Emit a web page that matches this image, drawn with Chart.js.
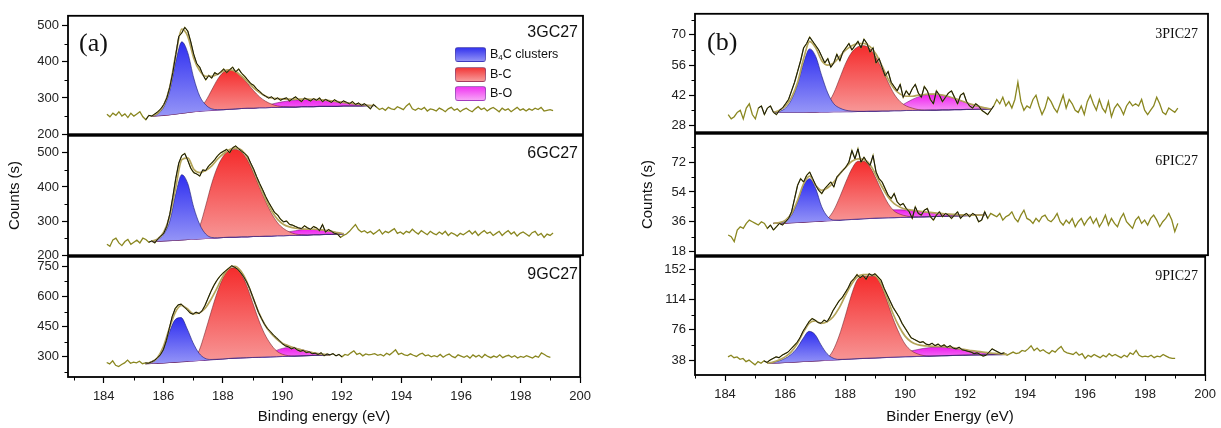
<!DOCTYPE html>
<html>
<head>
<meta charset="utf-8">
<script src="https://cdn.jsdelivr.net/npm/chart.js@4.4.0/dist/chart.umd.min.js"></script>
<style>
  body { margin: 0; background: #fff; width: 1221px; height: 428px; position: relative; overflow: hidden;
         font-family: "Liberation Sans", Arial, sans-serif; }
  canvas { position: absolute; }
  .txt { position: absolute; white-space: nowrap; color: #111; line-height: 1; }
  .tag { font-family: "Liberation Serif", "Times New Roman", serif; font-size: 26px; }
  .gc { font-size: 16px; }
  .pic { font-family: "Liberation Serif", "Times New Roman", serif; font-size: 14px; }
  .key { position: absolute; left: 455px; width: 31px; height: 15px; border-radius: 3px;
         border: 1px solid rgba(70,60,130,0.45); box-sizing: border-box; }
  .keytxt { position: absolute; left: 490px; font-size: 12.5px; color: #111; line-height: 15px; }
  .keytxt sub { font-size: 8px; vertical-align: -2px; }
</style>
</head>
<body>
<canvas id="a1"></canvas><canvas id="a2"></canvas><canvas id="a3"></canvas>
<canvas id="b1"></canvas><canvas id="b2"></canvas><canvas id="b3"></canvas>

<div class="txt tag" style="left:79px;top:30px">(a)</div>
<div class="txt tag" style="left:707px;top:29px">(b)</div>
<div class="txt gc" style="right:643px;top:24px">3GC27</div>
<div class="txt gc" style="right:643px;top:145px">6GC27</div>
<div class="txt gc" style="right:643px;top:266px">9GC27</div>
<div class="txt pic" style="right:23px;top:27px">3PIC27</div>
<div class="txt pic" style="right:23px;top:154px">6PIC27</div>
<div class="txt pic" style="right:23px;top:269px">9PIC27</div>

<div class="key" style="top:47px;background:linear-gradient(#3434ee,#9292f6)"></div>
<div class="key" style="top:67px;background:linear-gradient(#f23838,#f79a9a)"></div>
<div class="key" style="top:86px;background:linear-gradient(#f036f0,#f7a4f7)"></div>
<div class="keytxt" style="top:47px">B<sub>4</sub>C clusters</div>
<div class="keytxt" style="top:67px">B-C</div>
<div class="keytxt" style="top:86px">B-O</div>

<script>
// raw spectra, 0.1 eV steps from 184.1 to 199.0 eV
const rawStart = 184.1, rawStep = 0.1;
const rawA1 = [255,248,258,252,262,250,256,246,258,250, 256,262,248,240,252,250,256,262,270,282,
  300,330,370,420,470,480,495,485,455,420, 395,385,365,350,362,355,370,365,372,380,
  370,378,385,372,380,368,360,350,340,335, 325,318,310,305,300,303,296,300,294,298,
  300,292,298,303,296,290,300,296,292,298, 294,300,290,296,292,288,295,290,286,292,
  288,284,290,282,286,280,284,278,270,282, 275,268,272,266,274,270,268,276,272,268,
  278,285,270,266,272,268,274,264,270,268, 264,272,268,262,270,274,266,270,262,268,
  272,266,262,270,276,268,272,264,270,274, 268,262,272,266,270,262,268,274,266,270,
  264,270,266,272,268,274,264,266,268,265];
const rawA2 = [232,226,245,250,236,228,240,246,232,238, 244,236,250,246,238,242,236,248,256,265,
  285,320,370,425,470,492,498,478,455,442, 438,432,450,448,462,470,480,492,500,505,
  510,500,515,520,512,505,498,490,470,452, 430,410,392,372,355,340,325,318,305,298,
  300,290,288,284,280,278,286,280,276,284, 280,272,290,268,275,270,264,262,252,258,
  262,270,280,290,275,268,272,265,270,262, 268,275,262,270,266,272,278,264,268,262,
  270,266,276,268,262,272,266,260,270,264, 260,268,262,270,258,266,262,256,264,260,
  266,272,262,270,258,266,272,264,268,258, 264,270,258,266,272,262,268,256,264,268,
  262,256,266,270,258,264,252,262,258,265];
const rawA3 = [272,265,280,258,252,262,270,284,268,274, 270,278,266,270,268,275,282,295,310,335,
  380,440,500,540,558,562,548,535,518,512, 522,515,528,555,590,625,655,680,700,715,
  728,740,752,745,735,718,698,672,640,600, 560,520,490,462,440,425,408,395,380,365,
  355,350,340,346,335,328,332,322,325,316, 318,312,320,306,314,310,316,305,312,300,
  312,308,320,330,312,318,305,315,310,312, 316,308,312,304,318,310,322,335,312,318,
  310,306,315,308,302,312,318,305,310,300, 306,300,312,298,308,314,302,296,310,304,
  298,306,294,310,300,308,296,312,302,296, 304,298,310,296,304,308,298,306,294,302,
  298,306,300,294,304,298,320,312,302,298];
const rawB1 = [33,31,32,34,35,31,36,38,33,31, 36,37,33,36,37,34,33,35,36,38,
  40,44,48,53,58,64,66,69,67,65, 63,60,57,59,55,57,61,58,62,64,
  66,63,65,67,64,68,66,62,64,57, 59,55,51,53,48,46,44,47,41,44,
  42,45,47,43,41,46,44,40,38,44, 42,39,41,43,44,41,38,42,43,39,
  37,36,38,37,35,34,33,35,37,40, 38,41,37,39,36,40,48,39,35,37,
  36,40,42,37,33,36,41,39,36,34, 38,42,36,40,38,35,34,37,33,39,
  42,38,35,40,36,34,39,32,36,38, 36,33,37,39,37,38,37,40,35,33,
  35,37,41,38,34,33,36,35,34,36];
const rawB2 = [28,27,24,31,33,32,35,37,36,35, 34,36,35,32,34,31,33,35,34,36,
  38,42,50,58,62,60,64,66,62,58, 55,53,56,58,60,57,63,65,67,69,
  72,79,74,80,72,75,72,70,76,66, 62,60,56,52,50,53,48,46,47,44,
  42,38,45,41,40,43,44,39,37,40, 42,39,41,40,38,40,42,38,40,41,
  39,41,40,36,37,42,38,41,40,39, 41,37,39,40,42,38,36,40,43,38,
  37,35,38,36,39,40,37,36,38,41, 36,34,37,35,38,33,36,38,34,37,
  39,35,38,33,36,40,34,38,35,33, 38,41,36,34,32,37,39,35,37,34,
  38,40,37,33,36,38,41,37,30,35];
const rawB3 = [42,44,41,42,39,40,36,38,35,32, 36,34,37,35,38,40,42,41,44,46,
  48,52,56,60,66,74,80,86,90,88, 85,84,88,86,92,100,106,112,116,122,
  128,136,140,145,141,144,139,146,144,146, 142,138,128,120,112,104,98,92,84,78,
  72,66,64,62,60,61,58,57,59,56, 58,55,57,54,56,53,52,54,51,50,
  49,48,46,47,45,43,44,48,52,50, 48,46,47,44,46,48,46,47,50,49,
  52,56,50,53,49,51,48,46,50,48, 52,55,49,47,46,45,48,44,46,40,
  44,42,45,43,41,44,42,46,43,45, 43,41,44,42,47,45,50,44,42,43,
  42,44,41,43,42,45,43,41,40,40];

// fitted components, 0.2 eV steps from each fit start
const fitStep = 0.2;
const fitStartA1 = 185.6;
const baseA1 = [250,251,252,254,256,258,260,262,264,265,266,267,268,269,270,271,272,272,273,273,274,274,275,275,275,276,276,276,277,277,277,277,278,278,278,278,279,279];
const b4cA1 = [250,256,275,320,400,455,425,355,305,281,270,268,268,269,270,271,272,272,273,273,274,274,275,275,275,276,276,276,277,277,277,277,278,278,278,278,279,279];
const bcA1 = [250,251,252,254,256,258,260,263,272,292,322,352,372,378,372,358,340,320,303,291,283,278,276,275.5,275,276,276,276,277,277,277,277,278,278,278,278,279,279];
const boA1 = [250,251,252,254,256,258,260,262,264,265,266,267,268,269,270,271,272,272,275,279,283,287,290,292.5,294,295.5,296,296,295,293.5,291.5,289,287,285,283,281.5,280,279];
const envA1 = [250,258,280,330,420,490,470,410,375,360,360,366,375,378,373,360,345,328,315,305,300,298,297,297,297,297,297,296,295,294,292,290,288,286,284,282,280,279];

const fitStartA2 = 185.6;
const baseA2 = [240,241,242,243,244,245,246,247,248,249,250,251,252,253,253,254,254,255,255,256,256,257,257,258,258,259,259,260,260,261,261,262,262];
const b4cA2 = [240,246,262,300,380,436,410,340,290,262,252,251,252,253,253,254,254,255,255,256,256,257,257,258,258,259,259,260,260,261,261,262,262];
const bcA2 = [240,241,242,243,244,245,246,255,285,345,410,460,492,507,510,502,478,440,398,358,322,295,278,268,262,260,259,260,260,261,261,262,262];
const boA2 = [240,241,242,243,244,245,246,247,248,249,250,251,252,253,253,254,254,255,255,256,258,261,265,269,272,275,276,276,275,273,270,266,263];
const envA2 = [241,248,268,315,400,480,485,452,442,448,462,482,498,510,514,508,485,448,405,365,330,305,290,283,279,277,276,276,275,273,270,266,263];

const fitStartA3 = 185.4;
const baseA3 = [266,267,268,270,272,274,276,278,280,282,284,286,288,290,292,294,295,296,297,298,299,300,301,302,303,304,305,306,307,308,309,310];
const b4cA3 = [266,272,292,340,420,485,495,440,370,318,293,287,288,290,292,294,295,296,297,298,299,300,301,302,303,304,305,306,307,308,309,310];
const bcA3 = [266,267,268,270,272,274,276,278,290,330,420,520,615,690,735,742,715,655,570,485,415,365,330,313,306,304,305,306,307,308,309,310];
const boA3 = [266,267,268,270,272,274,276,278,280,282,284,286,288,290,292,294,295,296,297,298,305,318,332,342,346,344,338,330,322,316,312,310];
const envA3 = [266,274,296,350,440,520,555,540,515,518,540,585,640,700,740,750,728,675,598,522,462,420,390,368,355,345,336,328,321,316,312,310];

const fitStartB1 = 185.6;
const baseB1 = [34,34,34,34,34,34,34.1,34.1,34.2,34.2,34.3,34.3,34.4,34.4,34.5,34.5,34.6,34.6,34.7,34.7,34.8,34.8,34.9,34.9,35,35,35.1,35.1,35.2,35.2,35.3,35.3,35.4,35.4,35.5,35.5,35.6];
const b4cB1 = [34,34.5,36,40,47,57,63.5,60,51,43,38,36,35,34.6,34.5,34.5,34.6,34.6,34.7,34.7,34.8,34.8,34.9,34.9,35,35,35.1,35.1,35.2,35.2,35.3,35.3,35.4,35.4,35.5,35.5,35.6];
const bcB1 = [34,34,34,34,34,34,34.1,34.1,35,38,43,50,57,62,64.5,65,63.5,59.5,54,48,42.5,39,37,36,35.3,35.1,35.1,35.1,35.2,35.2,35.3,35.3,35.4,35.4,35.5,35.5,35.6];
const boB1 = [34,34,34,34,34,34,34.1,34.1,34.2,34.2,34.3,34.3,34.4,34.4,34.5,34.5,34.6,34.6,34.7,34.7,35.5,36.8,38.5,40,41.2,42,42.4,42.4,42,41.3,40.4,39.4,38.4,37.5,36.7,36,35.6];
const envB1 = [34,35,37,41,48,59,67,64,58,56,57,60,63,65,66,66,64.5,61,55.5,49.5,45,42.5,41.5,41.5,42,42.3,42.5,42.5,42,41.4,40.5,39.5,38.5,37.6,36.8,36.1,35.7];

const fitStartB2 = 185.6;
const baseB2 = [35,35.1,35.2,35.4,35.6,35.8,36,36.2,36.4,36.6,36.8,37,37.2,37.4,37.6,37.8,38,38.2,38.3,38.4,38.5,38.6,38.7,38.8,38.9,39,39.1,39.2,39.3,39.4,39.5,39.6,39.7,39.8,39.9,40];
const b4cB2 = [35,35.2,36.5,40,48,58,62,56,45,39,37,37,37.2,37.4,37.6,37.8,38,38.2,38.3,38.4,38.5,38.6,38.7,38.8,38.9,39,39.1,39.2,39.3,39.4,39.5,39.6,39.7,39.8,39.9,40];
const bcB2 = [35,35.1,35.2,35.4,35.6,35.8,36,36.2,36.4,38,43,51,60,68,72.5,72.5,69,62,54,47,42.5,40.5,39.5,39,38.9,39,39.1,39.2,39.3,39.4,39.5,39.6,39.7,39.8,39.9,40];
const boB2 = [35,35.1,35.2,35.4,35.6,35.8,36,36.2,36.4,36.6,36.8,37.1,37.6,38.3,39.2,40.2,41.2,42,42.6,43,43.2,43.2,43,42.7,42.3,41.9,41.5,41.1,40.8,40.5,40.3,40.1,40,40,40,40];
const envB2 = [35,35.5,37,41,49,59,63.5,58,55,56.5,60,65,69,72.5,74,73.5,70.5,64,57,51,47,44.8,43.5,43,42.5,42,41.6,41.2,40.9,40.6,40.4,40.2,40.1,40,40,40];

const fitStartB3 = 185.4;
const baseB3 = [34,34.3,34.6,35,35.4,35.8,36.2,36.6,37,37.4,37.8,38.2,38.6,39,39.4,39.8,40.1,40.4,40.7,41,41.3,41.6,41.9,42.2,42.4,42.6,42.8,43,43.2,43.4,43.6,43.8,44,44.2,44.4,44.5,44.6,44.7,44.8,44.9,45];
const b4cB3 = [34,35,37,40,45,53,65,74,70,57,46,40.5,38.8,39,39.4,39.8,40.1,40.4,40.7,41,41.3,41.6,41.9,42.2,42.4,42.6,42.8,43,43.2,43.4,43.6,43.8,44,44.2,44.4,44.5,44.6,44.7,44.8,44.9,45];
const bcB3 = [34,34.3,34.6,35,35.4,35.8,36.2,36.6,37,37.4,40,50,68,92,118,138,143,143,143,132,112,90,72,58,50,46,43.8,43,43.2,43.4,43.6,43.8,44,44.2,44.4,44.5,44.6,44.7,44.8,44.9,45];
const boB3 = [34,34.3,34.6,35,35.4,35.8,36.2,36.6,37,37.4,37.8,38.2,38.6,39,39.4,39.8,40.1,40.4,40.7,41,42,43.5,45.5,47.5,49.5,51,52.5,53.5,54,54,53.5,52.5,51.5,50,49,48,47,46.2,45.6,45.2,45];
const envB3 = [34,35.5,38,42,48,58,72,84,87,84,86,92,103,118,132,142,145,145,144,134,116,96,80,68,61,57.5,56,55.5,55.2,55,54.5,53.5,52.3,51,50,49,48,47,46.3,45.6,45];

// black (measured) segment of each spectrum
const spanA1 = [185.4, 193.1], spanA2 = [185.5, 191.9], spanA3 = [185.4, 192.0];
const spanB1 = [185.1, 192.9], spanB2 = [185.4, 192.7], spanB3 = [185.3, 193.3];

// tick labels
const xTicks = [184, 186, 188, 190, 192, 194, 196, 198, 200];
const xMinor = [183, 185, 187, 189, 191, 193, 195, 197, 199];
const ticksA1 = [200, 300, 400, 500], minorA1 = [250, 350, 450];
const ticksA2 = [200, 300, 400, 500], minorA2 = [250, 350, 450];
const ticksA3 = [300, 450, 600, 750], minorA3 = [225, 375, 525, 675];
const ticksB1 = [28, 42, 56, 70], minorB1 = [35, 49, 63, 77];
const ticksB2 = [18, 36, 54, 72], minorB2 = [27, 45, 63, 81];
const ticksB3 = [38, 76, 114, 152], minorB3 = [57, 95, 133];

const panels = {
  a: { left: 68, right: 583, yW: 62, xH: 53, xMin: 182.8, rows: [15, 135, 256, 377], xTitle: 'Binding energy (eV)' },
  b: { left: 695, right: 1208, yW: 56, xH: 55, xMin: 183, rows: [13, 133, 256, 375], xTitle: 'Binder Energy (eV)' }
};

const subplots = [
  { id: 'a1', panel: 'a', row: 0, raw: rawA1, span: spanA1, fit: fitStartA1, base: baseA1, b4c: b4cA1, bc: bcA1, bo: boA1, env: envA1, yMin: 200, yMax: 527, ticks: ticksA1, minor: minorA1 },
  { id: 'a2', panel: 'a', row: 1, raw: rawA2, span: spanA2, fit: fitStartA2, base: baseA2, b4c: b4cA2, bc: bcA2, bo: boA2, env: envA2, yMin: 200, yMax: 550, ticks: ticksA2, minor: minorA2 },
  { id: 'a3', panel: 'a', row: 2, raw: rawA3, span: spanA3, fit: fitStartA3, base: baseA3, b4c: b4cA3, bc: bcA3, bo: boA3, env: envA3, yMin: 200, yMax: 797, ticks: ticksA3, minor: minorA3 },
  { id: 'b1', panel: 'b', row: 0, raw: rawB1, span: spanB1, fit: fitStartB1, base: baseB1, b4c: b4cB1, bc: bcB1, bo: boB1, env: envB1, yMin: 24.8, yMax: 79.8, ticks: ticksB1, minor: minorB1 },
  { id: 'b2', panel: 'b', row: 1, raw: rawB2, span: spanB2, fit: fitStartB2, base: baseB2, b4c: b4cB2, bc: bcB2, bo: boB2, env: envB2, yMin: 15.8, yMax: 89.1, ticks: ticksB2, minor: minorB2 },
  { id: 'b3', panel: 'b', row: 2, raw: rawB3, span: spanB3, fit: fitStartB3, base: baseB3, b4c: b4cB3, bc: bcB3, bo: boB3, env: envB3, yMin: 19.3, yMax: 167.3, ticks: ticksB3, minor: minorB3 }
];

function pts(start, step, vals) {
  return vals.map((v, i) => ({ x: +(start + i * step).toFixed(2), y: v }));
}

// vertical gradient from the top of a peak down to its foot
function grad(top, bottom) {
  return ctx => {
    const chart = ctx.chart;
    if (!chart.chartArea) return top;
    const ys = chart.scales.y;
    const vals = ctx.dataset.data.map(p => p.y);
    const y0 = ys.getPixelForValue(Math.max(...vals));
    const y1 = ys.getPixelForValue(Math.min(...vals));
    const g = chart.ctx.createLinearGradient(0, y0, 0, y1 + 1);
    g.addColorStop(0, top);
    g.addColorStop(1, bottom);
    return g;
  };
}

// box round each plot plus the small minor ticks
const frame = {
  id: 'frame',
  afterDraw(chart, args, o) {
    const { ctx, chartArea: a, scales } = chart;
    ctx.save();
    ctx.strokeStyle = '#000';
    ctx.lineWidth = 1;
    (o.minorY || []).forEach(v => {
      const y = Math.round(scales.y.getPixelForValue(v)) + 0.5;
      ctx.beginPath(); ctx.moveTo(a.left - 3.5, y); ctx.lineTo(a.left, y); ctx.stroke();
    });
    (o.minorX || []).forEach(v => {
      const x = Math.round(scales.x.getPixelForValue(v)) + 0.5;
      ctx.beginPath(); ctx.moveTo(x, a.bottom); ctx.lineTo(x, a.bottom + 3.5); ctx.stroke();
    });
    ctx.lineWidth = 1.8;
    ctx.strokeRect(a.left, a.top, a.right - a.left, a.bottom - a.top);
    ctx.restore();
  }
};

subplots.forEach(sp => {
  const P = panels[sp.panel];
  const top = P.rows[sp.row], bottom = P.rows[sp.row + 1];
  const last = sp.row === 2;
  const cv = document.getElementById(sp.id);
  cv.width = P.yW + (P.right - P.left) + 14;
  cv.height = 10 + (bottom - top) + (last ? P.xH : 10);
  cv.style.left = (P.left - P.yW) + 'px';
  cv.style.top = (top - 10) + 'px';

  const rawPts = pts(rawStart, rawStep, sp.raw);
  const blackPts = rawPts.filter(p => p.x >= sp.span[0] && p.x <= sp.span[1]);
  const fitPts = arr => pts(sp.fit, fitStep, arr);
  const peak = (arr, line, c1, c2) => ({
    data: fitPts(arr), borderColor: line, borderWidth: 0.8, fill: { target: 6 },
    backgroundColor: grad(c1, c2), cubicInterpolationMode: 'monotone'
  });

  new Chart(cv, {
    type: 'line',
    data: {
      datasets: [
        { data: blackPts, borderColor: '#141414', borderWidth: 1 },
        { data: fitPts(sp.env), borderColor: '#b3a459', borderWidth: 1.7, cubicInterpolationMode: 'monotone' },
        { data: rawPts, borderColor: '#8a8720', borderWidth: 1.3 },
        peak(sp.b4c, 'rgba(30,30,120,0.8)', '#2e2ef0', '#9797f7'),
        peak(sp.bc, 'rgba(110,30,40,0.7)', '#f52c2c', '#f79a9a'),
        peak(sp.bo, 'rgba(110,30,110,0.7)', '#ef1eef', '#f7a6f7'),
        { data: fitPts(sp.base), borderColor: '#5a30a8', borderWidth: 1.2 }
      ]
    },
    options: {
      responsive: false,
      animation: false,
      layout: { padding: { top: 10, bottom: last ? 0 : 10, left: 0, right: 14 } },
      elements: { point: { radius: 0 }, line: { tension: 0 } },
      plugins: {
        legend: { display: false },
        tooltip: { enabled: false },
        frame: { minorY: sp.minor, minorX: last ? xMinor : null }
      },
      scales: {
        x: {
          type: 'linear', min: P.xMin, max: 200, display: last,
          afterBuildTicks: s => { s.ticks = xTicks.map(v => ({ value: v })); },
          afterFit: s => { s.height = last ? P.xH : 0; },
          grid: { drawOnChartArea: false, tickLength: 6, tickColor: '#000', tickWidth: 1.2 },
          border: { display: false },
          ticks: { font: { family: 'Liberation Sans', size: 13 }, color: '#222', padding: 6, maxRotation: 0 },
          title: { display: last, text: P.xTitle, font: { family: 'Liberation Sans', size: 15 }, color: '#111', padding: { top: 0, bottom: 4 } }
        },
        y: {
          min: sp.yMin, max: sp.yMax,
          afterBuildTicks: s => { s.ticks = sp.ticks.map(v => ({ value: v })); },
          afterFit: s => { s.width = P.yW; },
          grid: { drawOnChartArea: false, tickLength: 6, tickColor: '#000', tickWidth: 1.2 },
          border: { display: false },
          ticks: { font: { family: 'Liberation Sans', size: 13 }, color: '#222', padding: 3, autoSkip: false },
          title: { display: sp.row === 1, text: 'Counts (s)', font: { family: 'Liberation Sans', size: 15 }, color: '#111', padding: { top: 0, bottom: 0 } }
        }
      }
    },
    plugins: [frame]
  });
});
</script>
</body>
</html>
